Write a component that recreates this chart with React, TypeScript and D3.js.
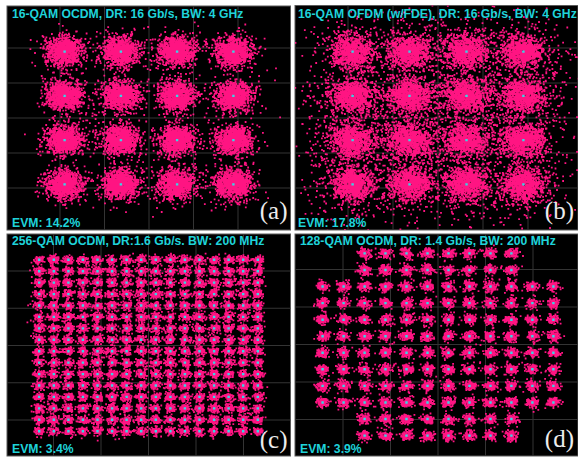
import React, { useMemo } from 'react';
import * as d3 from 'd3';

const W = 578;
const H = 458;

// ---- data ----
const levels16 = [-3, -1, 1, 3];
const levels128 = [-11, -9, -7, -5, -3, -1, 1, 3, 5, 7, 9, 11];
const levels256 = [-15, -13, -11, -9, -7, -5, -3, -1, 1, 3, 5, 7, 9, 11, 13, 15];
const crossCorner128 = 7; // 128-QAM cross: drop points with |I|>7 and |Q|>7

const titles = [
  '16-QAM OCDM, DR: 16 Gb/s, BW: 4 GHz',
  '16-QAM OFDM (w/FDE), DR: 16 Gb/s, BW: 4 GHz',
  '256-QAM OCDM, DR:1.6 Gb/s. BW: 200 MHz',
  '128-QAM OCDM, DR: 1.4 Gb/s, BW: 200 MHz',
];
const evmValues = [14.2, 17.8, 3.4, 3.9];
const panelLabels = ['(a)', '(b)', '(c)', '(d)'];
const gridTicks = [-1, -0.5, 0, 0.5, 1];
const samplesPerSymbol = [950, 1000, 75, 105];
const tailShare = [0.1, 0.24, 0.1, 0.12];
const coreFactor = [1.0, 0.92, 1.1, 1.1];
const tailFactor = [1.7, 2.3, 1.8, 1.8];

// ---- layout ----
const panels = [
  { x0: 7, x1: 290.5, y0: 6, y1: 230, cx: 149, sx: 89, cy: 118, sy: 70, tx: 12, ty: 17.5, ey: 226.5, lx: 287.5, ly: 219 },
  { x0: 295, x1: 578, y0: 5.5, y1: 230, cx: 438, sx: 90, cy: 118, sy: 70, tx: 298, ty: 17.5, ey: 226.5, lx: 574, ly: 219 },
  { x0: 7, x1: 290.5, y0: 234, y1: 456, cx: 148.5, sx: 95, cy: 345.5, sy: 74.5, tx: 12, ty: 245, ey: 452.5, lx: 287.5, ly: 447.5 },
  { x0: 295, x1: 578, y0: 234, y1: 456, cx: 438, sx: 95, cy: 344.5, sy: 75, tx: 300, ty: 245, ey: 452.5, lx: 574, ly: 447 },
];

function mulberry32(a: number) {
  return function () {
    a |= 0;
    a = (a + 0x6d2b79f5) | 0;
    let t = Math.imul(a ^ (a >>> 15), 1 | a);
    t = (t + Math.imul(t ^ (t >>> 7), 61 | t)) ^ t;
    return ((t ^ (t >>> 14)) >>> 0) / 4294967296;
  };
}

function constellation(i: number): [number, number][] {
  const pts: [number, number][] = [];
  if (i <= 1) {
    levels16.forEach((q) => levels16.forEach((p) => pts.push([p, q])));
    return pts;
  }
  if (i === 2) {
    levels256.forEach((q) => levels256.forEach((p) => pts.push([p, q])));
    return pts;
  }
  levels128.forEach((q) =>
    levels128.forEach((p) => {
      if (Math.abs(p) > crossCorner128 && Math.abs(q) > crossCorner128) return;
      pts.push([p, q]);
    })
  );
  return pts;
}

const font = "'Liberation Sans', Arial, sans-serif";

function Panel({ idx }: { idx: number }) {
  const p = panels[idx];
  const x = d3.scaleLinear().domain([-1, 1]).range([p.cx - p.sx, p.cx + p.sx]);
  const y = d3.scaleLinear().domain([-1, 1]).range([p.cy + p.sy, p.cy - p.sy]);

  const { cloud, centers } = useMemo(() => {
    const pts = constellation(idx);
    const rms = Math.sqrt(d3.mean(pts, (d) => d[0] * d[0] + d[1] * d[1]) as number);
    const sigma = evmValues[idx] / 100 / Math.SQRT2;
    const rnd = mulberry32(1234 + idx * 977);
    const gauss = () => {
      const u = Math.max(1e-9, rnd());
      const v = rnd();
      return Math.sqrt(-2 * Math.log(u)) * Math.cos(2 * Math.PI * v);
    };
    const s = 1.8;
    let cloudPath = '';
    let centerPath = '';
    pts.forEach(([ii, qq]) => {
      const ni = ii / rms;
      const nq = qq / rms;
      for (let k = 0; k < samplesPerSymbol[idx]; k++) {
        const f = rnd() < tailShare[idx] ? tailFactor[idx] : coreFactor[idx];
        const px = x(ni + gauss() * sigma * f) - s / 2;
        const py = y(nq + gauss() * sigma * f) - s / 2;
        cloudPath += `M${px.toFixed(1)},${py.toFixed(1)}h${s}v${s}h-${s}z`;
      }
      const cs = 2.4;
      centerPath += `M${(x(ni) - cs / 2).toFixed(1)},${(y(nq) - cs / 2).toFixed(1)}h${cs}v${cs}h-${cs}z`;
    });
    return { cloud: cloudPath, centers: centerPath };
  }, [idx]);

  const clipId = `clip-${idx}`;
  return (
    <g>
      <defs>
        <clipPath id={clipId}>
          <rect x={p.x0} y={p.y0} width={p.x1 - p.x0} height={p.y1 - p.y0} />
        </clipPath>
      </defs>
      <rect x={p.x0} y={p.y0} width={p.x1 - p.x0} height={p.y1 - p.y0} fill="#000" stroke="#5a5a5a" strokeWidth={1} />
      <g clipPath={`url(#${clipId})`}>
        {gridTicks.map((t) => (
          <line key={`v${t}`} x1={x(t)} x2={x(t)} y1={p.y0} y2={p.y1} stroke="#343434" strokeWidth={1} />
        ))}
        {gridTicks.map((t) => (
          <line key={`h${t}`} x1={p.x0} x2={p.x1} y1={y(t)} y2={y(t)} stroke="#343434" strokeWidth={1} />
        ))}
        <path d={cloud} fill="#ff1482" />
        <path d={centers} fill="#38d6e6" />
        <text x={p.tx} y={p.ty} fontFamily={font} fontWeight="bold" fontSize={12.2} fill="#1fd3da">
          {titles[idx]}
        </text>
        <text x={p.tx} y={p.ey} fontFamily={font} fontWeight="bold" fontSize={12.2} fill="#1fd3da">
          {`EVM: ${evmValues[idx]}%`}
        </text>
        <text x={p.lx} y={p.ly} textAnchor="end" fontFamily="'Liberation Serif', 'Times New Roman', serif" fontSize={25} fill="#ececec">
          {panelLabels[idx]}
        </text>
      </g>
    </g>
  );
}

export default function App() {
  return (
    <svg width={W} height={H} style={{ position: 'absolute', left: 0, top: 0, background: '#fff', display: 'block' }}>
      <rect x={0} y={0} width={W} height={H} fill="#fff" />
      {panels.map((_, i) => (
        <Panel key={i} idx={i} />
      ))}
    </svg>
  );
}
